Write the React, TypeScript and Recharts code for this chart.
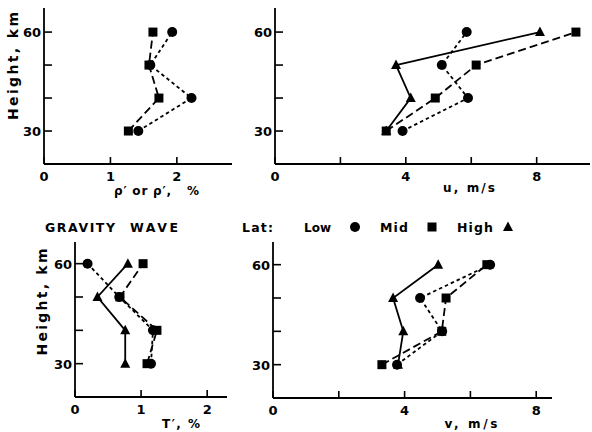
import React from "react";
import { ScatterChart, Scatter, XAxis, YAxis } from "recharts";

// heights (km) shared by every profile
const heights = [30, 40, 50, 60];
const heightTicks = [30, 40, 50, 60];

// density fluctuation, %
const rhoLow = [1.42, 2.22, 1.6, 1.93];
const rhoMid = [1.27, 1.73, 1.58, 1.64];

// zonal wind, m/s
const uLow = [3.9, 5.9, 5.1, 5.86];
const uMid = [3.4, 4.9, 6.15, 9.2];
const uHigh = [3.4, 4.15, 3.7, 8.1];

// temperature fluctuation, %
const tLow = [1.15, 1.18, 0.67, 0.19];
const tMid = [1.09, 1.24, 0.68, 1.03];
const tHigh = [0.76, 0.76, 0.34, 0.8];

// meridional wind, m/s
const vLow = [3.77, 5.14, 4.47, 6.6];
const vMid = [3.31, 5.13, 5.26, 6.5];
const vHigh = [3.8, 3.96, 3.65, 5.02];

const pctTicks = [0, 1, 2];
const windTicks = [0, 2, 4, 6, 8];
const windLabels = [0, 4, 8];

const FONT = "'DejaVu Sans', sans-serif";

const lineStyle = {
  low: { stroke: "#000", strokeWidth: 1.8, strokeDasharray: "3.5 3" },
  mid: { stroke: "#000", strokeWidth: 1.8, strokeDasharray: "8 4" },
  high: { stroke: "#000", strokeWidth: 1.8 },
};

const circleShape = (p: any) => <circle cx={p.cx} cy={p.cy} r={5} fill="#000" />;
const squareShape = (p: any) => (
  <rect x={p.cx - 4.5} y={p.cy - 4.5} width={9} height={9} fill="#000" />
);
const triangleShape = (p: any) => (
  <polygon
    points={`${p.cx},${p.cy - 5.5} ${p.cx - 5},${p.cy + 4} ${p.cx + 5},${p.cy + 4}`}
    fill="#000"
  />
);

const toPoints = (vals: number[]) => vals.map((v, i) => ({ x: v, y: heights[i] }));

function XTick(props: any) {
  const { x, y, payload, labels } = props;
  const show = labels.includes(payload.value);
  return (
    <g>
      <line x1={x} x2={x} y1={y} y2={y - 7} stroke="#000" strokeWidth={1.6} />
      {show && (
        <text x={x} y={y + 17} textAnchor="middle" fontFamily={FONT} fontWeight="bold" fontSize={13} fill="#000">
          {payload.value}
        </text>
      )}
    </g>
  );
}

function YTick(props: any) {
  const { x, y, payload } = props;
  const show = payload.value === 30 || payload.value === 60;
  return (
    <g>
      <line x1={x} x2={x + 8} y1={y} y2={y} stroke="#000" strokeWidth={1.6} />
      {show && (
        <text x={x - 3} y={y + 5} textAnchor="end" fontFamily={FONT} fontWeight="bold" fontSize={13} fill="#000">
          {payload.value}
        </text>
      )}
    </g>
  );
}

type Series = { vals: number[]; kind: "low" | "mid" | "high" };

function Panel(props: {
  left: number;
  right: number;
  top: number;
  bottom: number;
  xMax: number;
  yMax: number;
  xTicks: number[];
  xLabels: number[];
  series: Series[];
}) {
  const { left, right, top, bottom, xMax, yMax, xTicks, xLabels, series } = props;
  const shapes = { low: circleShape, mid: squareShape, high: triangleShape };
  return (
    <div style={{ position: "absolute", left: 0, top: 0 }}>
      <ScatterChart
        width={592}
        height={432}
        margin={{ top, right: 592 - right, bottom: 432 - bottom - 20, left: left - 30 }}
      >
        <XAxis
          type="number"
          dataKey="x"
          domain={[0, xMax]}
          ticks={xTicks}
          interval={0}
          allowDataOverflow
          height={20}
          tickSize={0}
          tickMargin={0}
          tickLine={false}
          axisLine={{ stroke: "#000", strokeWidth: 1.8 }}
          tick={(p: any) => <XTick {...p} labels={xLabels} />}
        />
        <YAxis
          type="number"
          dataKey="y"
          domain={[20, yMax]}
          ticks={heightTicks}
          interval={0}
          allowDataOverflow
          width={30}
          tickSize={0}
          tickMargin={0}
          tickLine={false}
          axisLine={{ stroke: "#000", strokeWidth: 1.8 }}
          tick={(p: any) => <YTick {...p} />}
        />
        {series.map((s, i) => (
          <Scatter
            key={i}
            data={toPoints(s.vals)}
            fill="#000"
            line={lineStyle[s.kind]}
            lineType="joint"
            shape={shapes[s.kind]}
            isAnimationActive={false}
          />
        ))}
      </ScatterChart>
    </div>
  );
}

const txt = { fontFamily: FONT, fontWeight: "bold" as const, fill: "#000" };

export default function App() {
  return (
    <div style={{ position: "absolute", left: 0, top: 0, width: 592, height: 432, background: "#fff" }}>
      <Panel
        left={44}
        right={232}
        top={8}
        bottom={164}
        xMax={2.83}
        yMax={67.3}
        xTicks={pctTicks}
        xLabels={pctTicks}
        series={[
          { vals: rhoMid, kind: "mid" },
          { vals: rhoLow, kind: "low" },
        ]}
      />
      <Panel
        left={275}
        right={590}
        top={8}
        bottom={164}
        xMax={9.63}
        yMax={67.3}
        xTicks={windTicks}
        xLabels={windLabels}
        series={[
          { vals: uHigh, kind: "high" },
          { vals: uMid, kind: "mid" },
          { vals: uLow, kind: "low" },
        ]}
      />
      <Panel
        left={75}
        right={227}
        top={242}
        bottom={397}
        xMax={2.3}
        yMax={66.5}
        xTicks={pctTicks}
        xLabels={pctTicks}
        series={[
          { vals: tHigh, kind: "high" },
          { vals: tMid, kind: "mid" },
          { vals: tLow, kind: "low" },
        ]}
      />
      <Panel
        left={273}
        right={552}
        top={242}
        bottom={398}
        xMax={8.48}
        yMax={66.8}
        xTicks={windTicks}
        xLabels={windLabels}
        series={[
          { vals: vHigh, kind: "high" },
          { vals: vMid, kind: "mid" },
          { vals: vLow, kind: "low" },
        ]}
      />
      <svg width={592} height={432} style={{ position: "absolute", left: 0, top: 0, pointerEvents: "none" }}>
        <text {...txt} fontSize={14} transform="translate(18,66) rotate(-90)" textAnchor="middle" textLength={108} lengthAdjust="spacing">
          Height, km
        </text>
        <text {...txt} fontSize={14} transform="translate(47,302) rotate(-90)" textAnchor="middle" textLength={107} lengthAdjust="spacing">
          Height, km
        </text>
        <text {...txt} fontSize={12} x={114} y={195} textLength={57} lengthAdjust="spacing">
          ρ′ or ρ′,
        </text>
        <text {...txt} fontSize={12} x={187} y={195}>%</text>
        <text {...txt} fontSize={12} x={469} y={192} textAnchor="middle" textLength={52} lengthAdjust="spacing">
          u, m/s
        </text>
        <text {...txt} fontSize={12} x={181} y={428} textAnchor="middle" textLength={38} lengthAdjust="spacing">
          T′, %
        </text>
        <text {...txt} fontSize={12} x={471} y={428} textAnchor="middle" textLength={53} lengthAdjust="spacing">
          v, m/s
        </text>
        <text {...txt} fontSize={12.5} x={45} y={232} textLength={70} lengthAdjust="spacing">GRAVITY</text>
        <text {...txt} fontSize={12.5} x={130} y={232} textLength={48} lengthAdjust="spacing">WAVE</text>
        <text {...txt} fontSize={12.5} x={242} y={232} textLength={31} lengthAdjust="spacing">Lat:</text>
        <text {...txt} fontSize={12} x={304} y={232}>Low</text>
        {circleShape({ cx: 355, cy: 227 })}
        <text {...txt} fontSize={12.5} x={380} y={232} textLength={28} lengthAdjust="spacing">Mid</text>
        {squareShape({ cx: 432, cy: 227 })}
        <text {...txt} fontSize={12.5} x={457} y={232} textLength={36} lengthAdjust="spacing">High</text>
        {triangleShape({ cx: 508, cy: 227 })}
      </svg>
    </div>
  );
}
